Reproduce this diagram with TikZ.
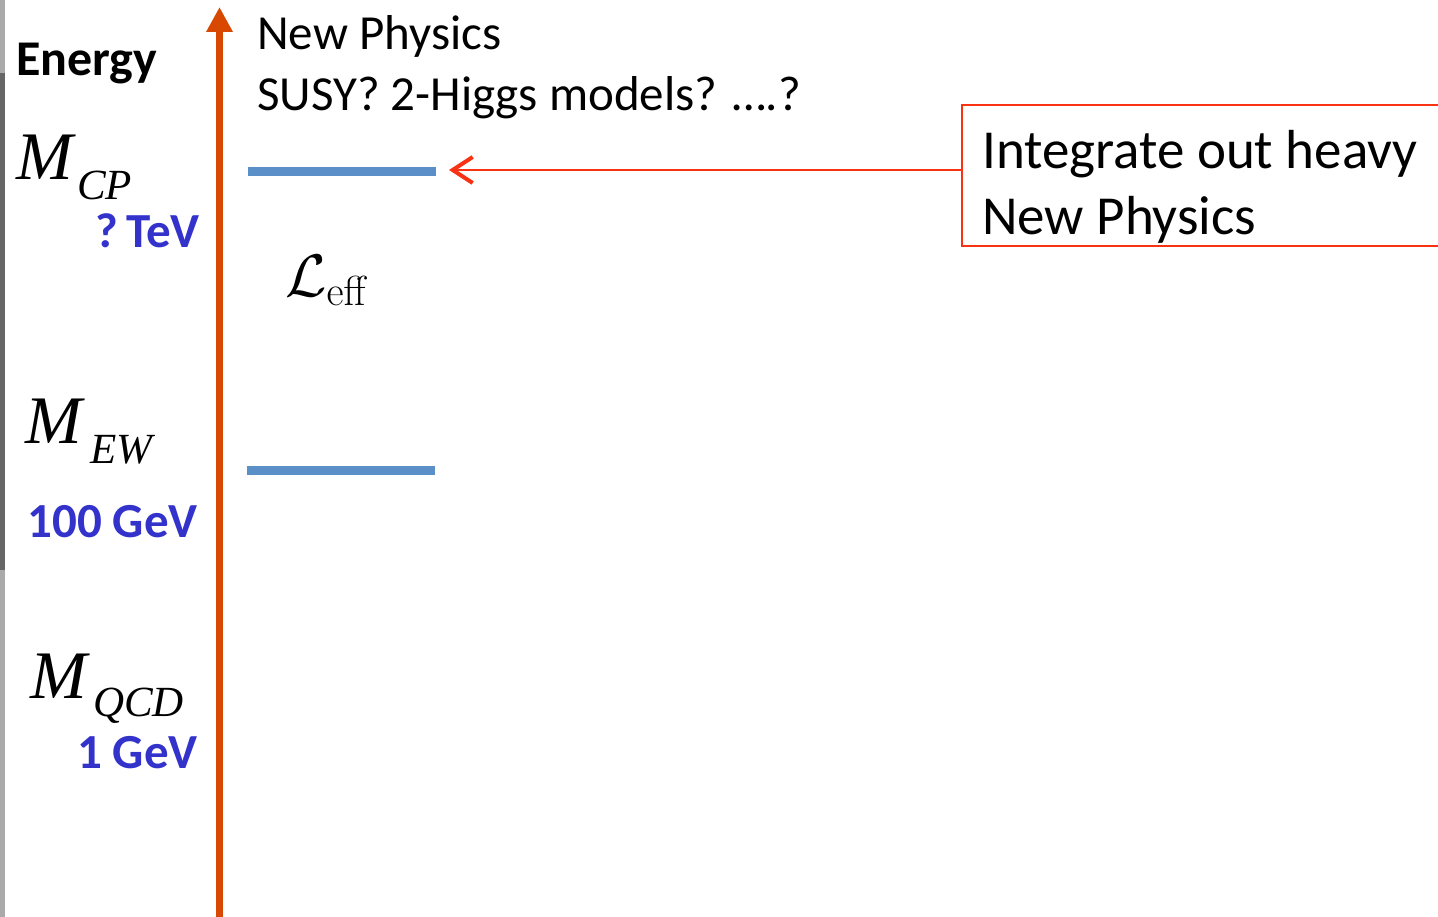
\RequirePackage{fix-cm}
\documentclass[tikz,border=0pt]{standalone}
\usepackage[no-math]{fontspec}
\setmainfont{Carlito}
\newfontfamily\tnr{Liberation Serif}
\usetikzlibrary{arrows.meta}
\definecolor{orangeax}{RGB}{217,72,0}
\definecolor{bluelvl}{RGB}{91,143,199}
\definecolor{redbox}{RGB}{250,50,20}
\definecolor{bluetxt}{RGB}{51,51,204}
\definecolor{grayl}{RGB}{170,170,170}
\definecolor{grayd}{RGB}{102,102,102}
\tikzset{
  txt/.style={inner sep=0pt, anchor=base west, font=\fontsize{49}{56}\selectfont},
  bigM/.style={inner sep=0pt, anchor=base west, font=\fontsize{68}{70}\selectfont\tnr\itshape},
  subM/.style={inner sep=0pt, anchor=base west, font=\fontsize{43}{50}\selectfont\tnr\itshape},
  energy/.style={inner sep=0pt, anchor=base east, font=\fontsize{49}{54}\selectfont\bfseries, text=bluetxt},
  level/.style={draw=bluelvl, line width=9pt},
  boxtxt/.style={inner sep=0pt, anchor=base west, font=\fontsize{55}{66}\selectfont},
}
\begin{document}
\begin{tikzpicture}[x=1pt,y=-1pt]
\clip (0,0) rectangle (1438,917);
\fill[white] (0,0) rectangle (1438,917);
% left gray strip
\fill[grayl] (0,0) rectangle (5,73);
\fill[grayd] (0,73) rectangle (5,570);
\fill[grayl] (0,570) rectangle (5,917);
% energy axis
\coordinate (axbot) at (219.5,920);
\coordinate (axtop) at (219.5,7);
\draw[orangeax, line width=7pt, -{Triangle[width=25pt,length=25pt]}] (axbot) -- (axtop);
% labels
\node[inner sep=0pt, anchor=base west, font=\fontsize{50}{54}\selectfont\bfseries] (energy) at (16,76) {Energy};
\node[bigM] (mcp) at (16,180) {M};
\node[subM] (mcpsub) at (77,200) {CP};
\node[energy] (tev) at (200,248) {?\,TeV};
\node[bigM] (mew) at (25,443) {M};
\node[subM] (mewsub) at (90,463) {EW};
\node[energy] (gev100) at (198,537) {100 GeV};
\node[bigM] (mqcd) at (30,698) {M};
\node[subM] (mqcdsub) at (93,716) {QCD};
\node[energy] (gev1) at (198,768) {1 GeV};
% top text
\node[txt] (np) at (257,50) {New Physics};
\node[txt] (susy) at (257,111) {SUSY? 2-Higgs models? ….?};
% levels
\draw[level] (248,172) coordinate (cpL) -- (436,172) coordinate (cpR);
\draw[level] (247,470) coordinate (ewL) -- (435,470) coordinate (ewR);
% Leff
\node[inner sep=0pt, anchor=base west, font=\fontsize{60}{66}\selectfont] (leff) at (285,297) {$\mathcal{L}_{\mathrm{eff}}$};
% box
\node[draw=redbox, line width=2pt, anchor=north west, minimum width=520pt, minimum height=141pt, inner sep=0pt] (box) at (961,104) {};
\node[boxtxt] (boxl1) at (982,169) {Integrate out heavy};
\node[boxtxt] (boxl2) at (982,235) {New Physics};
\coordinate (tip) at (449,170);
\draw[redbox, line width=2pt, -{Straight Barb[length=20pt,width=26pt,line width=4pt]}] (box.west |- tip) -- (tip);
\end{tikzpicture}
\end{document}
